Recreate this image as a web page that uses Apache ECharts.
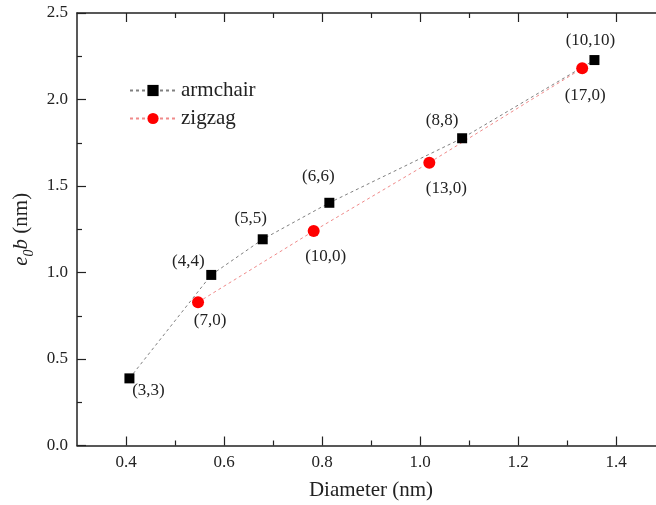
<!DOCTYPE html>
<html>
<head>
<meta charset="utf-8">
<script src="https://cdn.jsdelivr.net/npm/echarts@6/dist/echarts.min.js"></script>
<style>
html,body{margin:0;padding:0;background:#fff;}
#c{width:656px;height:505px;}
</style>
</head>
<body>
<div id="c"></div>
<script>
// ---- data ----
var armchairLabels = ['(3,3)', '(4,4)', '(5,5)', '(6,6)', '(8,8)', '(10,10)'];
var armchairDiameter = [0.407, 0.574, 0.679, 0.815, 1.086, 1.356];
var armchairE0b = [0.388, 0.986, 1.192, 1.403, 1.776, 2.228];

var zigzagLabels = ['(7,0)', '(10,0)', '(13,0)', '(17,0)'];
var zigzagDiameter = [0.547, 0.783, 1.019, 1.331];
var zigzagE0b = [0.828, 1.240, 1.635, 2.180];

var xMajorTicks = [0.4, 0.6, 0.8, 1.0, 1.2, 1.4];
var xMinorTicks = [0.5, 0.7, 0.9, 1.1, 1.3];

// ---- layout (label offsets, px) ----
var armchairLabelOffsets = [[19, 12], [-23, -13], [-12, -21], [-11, -26], [-20, -18], [-4, -20]];
var zigzagLabelOffsets = [[12, 18], [12, 26], [17, 26], [3, 27]];

var FONT = '"Liberation Serif", "DejaVu Serif", serif';

function buildData(xs, ys, labels, offsets) {
  return xs.map(function (x, i) {
    return {
      value: [x, ys[i]],
      label: { show: true, formatter: labels[i], position: 'inside', offset: offsets[i] }
    };
  });
}

var axisLine = { show: true, lineStyle: { color: '#222', width: 1.5 } };

function xAxisDef(pos, ticks, len, showLine, showLabel) {
  var a = {
    type: 'value', position: pos, min: 0.3, max: 1.5, gridIndex: 0,
    axisLine: showLine ? axisLine : { show: false },
    axisTick: { show: true, inside: true, length: len, customValues: ticks, lineStyle: { color: '#222', width: 1.2 } },
    axisLabel: showLabel ? {
      show: true, customValues: ticks, margin: 9,
      fontFamily: FONT, fontSize: 17, color: '#222',
      formatter: function (v) { return v.toFixed(1); }
    } : { show: false },
    splitLine: { show: false }
  };
  return a;
}

var xAxes = [
  xAxisDef('bottom', xMajorTicks, 9, true, true),
  xAxisDef('bottom', xMinorTicks, 5, false, false),
  xAxisDef('top', xMajorTicks, 9, true, false),
  xAxisDef('top', xMinorTicks, 5, false, false)
];
xAxes[0].name = 'Diameter (nm)';
xAxes[0].nameLocation = 'middle';
xAxes[0].nameGap = 34;
xAxes[0].nameTextStyle = { fontFamily: FONT, fontSize: 21, color: '#222' };

function yAxisDef(pos, showLabel) {
  return {
    type: 'value', position: pos, min: 0, max: 2.5, interval: 0.5,
    axisLine: axisLine,
    axisTick: { show: true, inside: true, length: 9, lineStyle: { color: '#222', width: 1.2 } },
    minorTick: { show: true, splitNumber: 2, length: 5, lineStyle: { color: '#222', width: 1.2 } },
    axisLabel: showLabel ? {
      show: true, margin: 9, fontFamily: FONT, fontSize: 17, color: '#222',
      formatter: function (v) { return v.toFixed(1); }
    } : { show: false },
    splitLine: { show: false }
  };
}
var yAxes = [yAxisDef('left', true), yAxisDef('right', false)];
yAxes[0].name = '{i|e}{s|0}{i|b}{n| (nm)}';
yAxes[0].nameLocation = 'middle';
yAxes[0].nameRotate = 90;
yAxes[0].nameGap = 32;
yAxes[0].nameTextStyle = {
  fontFamily: FONT, fontSize: 21, color: '#222',
  rich: {
    i: { fontFamily: FONT, fontSize: 21, fontStyle: 'italic', color: '#222', lineHeight: 28, verticalAlign: 'middle' },
    s: { fontFamily: FONT, fontSize: 14, fontStyle: 'italic', color: '#222', lineHeight: 14, verticalAlign: 'bottom' },
    n: { fontFamily: FONT, fontSize: 21, color: '#222', lineHeight: 28, verticalAlign: 'middle' }
  }
};

var chart = echarts.init(document.getElementById('c'), null, { renderer: 'canvas' });
chart.setOption({
  animation: false,
  backgroundColor: '#fff',
  grid: { left: 77, right: -9, top: 13, bottom: 59.5, containLabel: false, outerBoundsMode: 'none' },
  xAxis: xAxes,
  yAxis: yAxes,
  legend: {
    orient: 'vertical', left: 124, top: 75, padding: 5, itemWidth: 46, itemHeight: 14, itemGap: 7,
    textStyle: { fontFamily: FONT, fontSize: 21, color: '#222' },
    data: ['armchair', 'zigzag']
  },
  series: [
    {
      name: 'armchair', type: 'line', xAxisIndex: 0, yAxisIndex: 0,
      symbol: 'rect', symbolSize: 10,
      itemStyle: { color: '#000' },
      lineStyle: { color: '#808080', width: 1, type: [3, 3] },
      label: { fontFamily: FONT, fontSize: 17, color: '#222' },
      data: buildData(armchairDiameter, armchairE0b, armchairLabels, armchairLabelOffsets)
    },
    {
      name: 'zigzag', type: 'line', xAxisIndex: 0, yAxisIndex: 0,
      symbol: 'circle', symbolSize: 12,
      itemStyle: { color: '#ff0000' },
      lineStyle: { color: '#f08a8a', width: 1, type: [3, 3] },
      label: { fontFamily: FONT, fontSize: 17, color: '#222' },
      data: buildData(zigzagDiameter, zigzagE0b, zigzagLabels, zigzagLabelOffsets)
    }
  ]
});
</script>
</body>
</html>
